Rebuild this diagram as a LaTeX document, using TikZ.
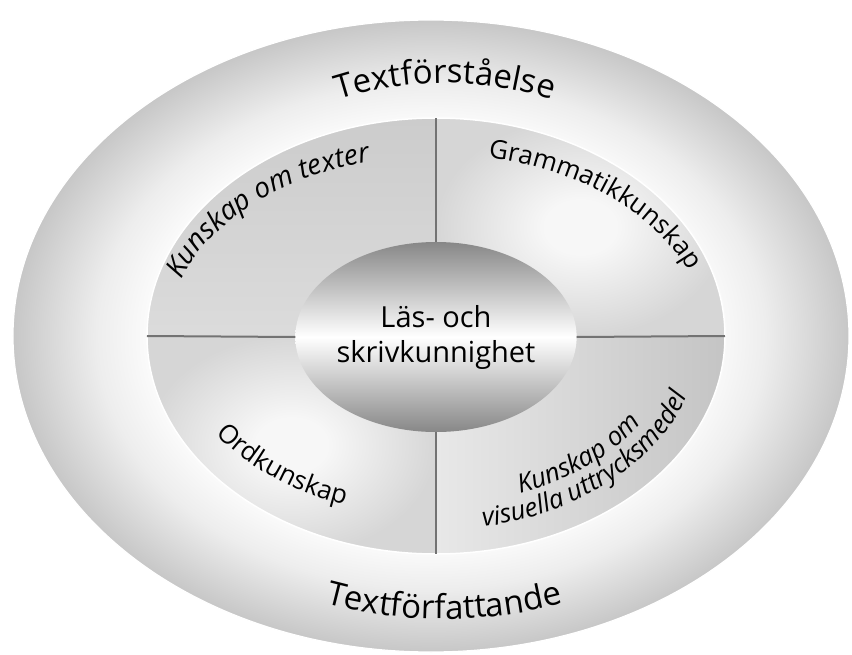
\documentclass[tikz,border=0pt]{standalone}
\usepackage{fontspec}
\setmainfont{Open Sans}
\usetikzlibrary{shapes.geometric,decorations.text}

\definecolor{ringedge}{gray}{0.78}
\definecolor{ringlight}{gray}{0.93}
\definecolor{quaddark}{gray}{0.80}
\definecolor{quadmid}{gray}{0.86}
\definecolor{quadcentre}{gray}{0.97}
\definecolor{quadedge}{gray}{0.84}
\definecolor{quadright}{gray}{0.77}
\definecolor{quadleft}{gray}{0.91}
\definecolor{coredark}{gray}{0.53}
\definecolor{divline}{gray}{0.45}

% pgf maps the middle 50bp of a shading onto the path
\pgfdeclareradialshading{ringglow}{\pgfpoint{0bp}{0bp}}{color(0bp)=(white); color(16bp)=(white); color(20bp)=(ringlight); color(25bp)=(ringedge); color(50bp)=(ringedge)}
\pgfdeclareradialshading{quadglow}{\pgfpoint{0bp}{0bp}}{color(0bp)=(quadcentre); color(6bp)=(quadcentre); color(25bp)=(quadedge); color(50bp)=(quadedge)}

\newcommand\ringfont{\fontsize{33}{38}\selectfont}
\newcommand\quadfont{\fontsize{26}{30}\selectfont}

\tikzset{
  ring/.style={ellipse, inner sep=0pt, minimum width=836pt, minimum height=632pt, shade, shading=ringglow, draw=white, line width=1.2pt},
  midring/.style={ellipse, inner sep=0pt, outer sep=0pt, minimum width=578pt, minimum height=436pt, draw=white, line width=1.5pt},
  core/.style={ellipse, inner sep=0pt, outer sep=0pt, minimum width=264pt, minimum height=190pt, top color=coredark, bottom color=coredark, middle color=white, align=center, font=\fontsize{29}{35}\selectfont},
  divider/.style={draw=divline, line width=2pt},
  curvetext/.style={decorate, decoration={text along path, text align=center, text={#1}}}
}

\begin{document}
\begin{tikzpicture}[x=1pt, y=1pt]
  \useasboundingbox (-436,-318) rectangle (416,336);
  \node[ring] (ring) at (-5,0) {};
  % quadrants of the middle ring
  \begin{scope}
    \clip (0,0) ellipse [x radius=289, y radius=218];
    \shade[top color=quaddark, bottom color=quadmid] (-289,0) rectangle (0,218);
    \shade[shading=quadglow] (0,0) rectangle (289,218);
    \shade[shading=quadglow] (-289,-218) rectangle (0,0);
    \shade[left color=quadleft, right color=quadright] (0,-218) rectangle (289,0);
  \end{scope}
  \node[midring] (mid) at (0,0) {};
  \node[core] (core) at (0,-1) {Läs- och\\skrivkunnighet};
  \draw[divider] (mid.north) -- (core.north);
  \draw[divider] (core.south) -- (mid.south);
  \draw[divider] (mid.west) -- (core.west);
  \draw[divider] (core.east) -- (mid.east);
  % curved labels
  \path[curvetext={|\ringfont|Textförståelse}] (9,0) ++(125:300 and 253) arc[start angle=125, end angle=55, x radius=300, y radius=253];
  \path[curvetext={|\ringfont|Textförfattande}] (8,0) ++(235:362 and 283) arc[start angle=235, end angle=305, x radius=362, y radius=283];
  \path[curvetext={|\fontsize{28}{32}\selectfont\itshape|Kunskap om texter}] (0,0) ++(181:268 and 180) arc[start angle=181, end angle=91, x radius=268, y radius=180];
  \path[curvetext={|\quadfont|Grammatikkunskap}] (0,0) ++(92:270 and 182) arc[start angle=92, end angle=2, x radius=270, y radius=182];
  \path[curvetext={|\quadfont|Ordkunskap}] (0,0) ++(194:262 and 180) arc[start angle=194, end angle=264, x radius=262, y radius=180];
  \path[curvetext={|\quadfont\itshape|Kunskap om}] (0,0) ++(281:240 and 168) arc[start angle=281, end angle=341, x radius=240, y radius=168];
  \path[curvetext={|\quadfont\itshape|visuella uttrycksmedel}] (0,0) ++(272:264 and 194) arc[start angle=272, end angle=353, x radius=264, y radius=194];
\end{tikzpicture}
\end{document}
